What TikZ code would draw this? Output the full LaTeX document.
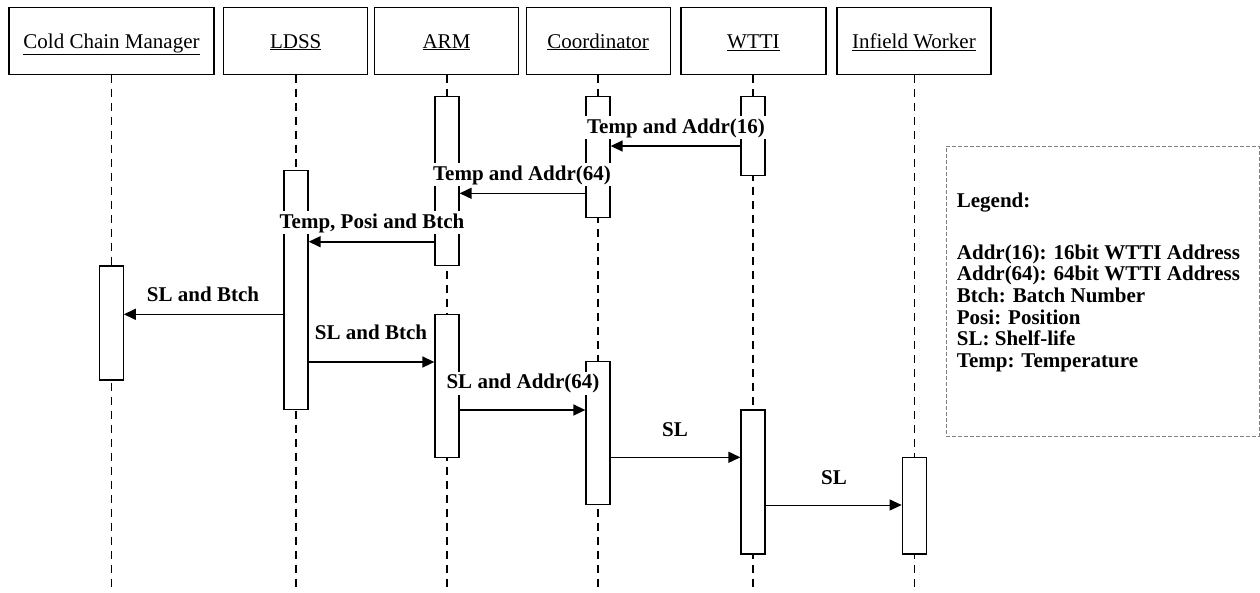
\documentclass[tikz,border=0pt]{standalone}
\usepackage{fontspec}
\setmainfont{Liberation Serif}
\usetikzlibrary{arrows.meta}
\begin{document}
\begin{tikzpicture}[x=1pt,y=-1pt,
  hdr/.style={draw,line width=1.2pt,inner sep=0pt,minimum height=67pt},
  hdrtext/.style={anchor=base,inner sep=0pt,font=\fontsize{21}{25}\selectfont},
  life/.style={line width=1.1pt,dash pattern=on 8pt off 6pt},
  act/.style={draw,fill=white,line width=1.3pt,inner sep=0pt,minimum width=24pt},
  msg/.style={line width=1.6pt,-{Triangle[length=12pt,width=11pt]}},
  thinmsg/.style={line width=1pt,-{Triangle[length=12pt,width=11pt]}},
  lbl/.style={anchor=base,fill=white,inner sep=2pt,font=\fontsize{21}{25}\selectfont\bfseries},
  leg/.style={anchor=base west,inner sep=0pt,font=\fontsize{21}{25}\selectfont\bfseries}]
\useasboundingbox (0,0) rectangle (1260,592);
% header boxes
\node[hdr,minimum width=205pt] (h1) at (111.5,40.7) {};
\node[hdr,minimum width=144pt] (h2) at (295.7,40.7) {};
\node[hdr,minimum width=144pt] (h3) at (446.5,40.7) {};
\node[hdr,minimum width=144pt] (h4) at (598.2,40.7) {};
\node[hdr,minimum width=145pt] (h5) at (753.4,40.7) {};
\node[hdr,minimum width=154pt] (h6) at (913.9,40.7) {};
\node[hdrtext] (t1) at (111.5,48) {\underline{Cold Chain Manager}};
\node[hdrtext] (t2) at (295.7,48) {\underline{LDSS}};
\node[hdrtext] (t3) at (446.5,48) {\underline{ARM}};
\node[hdrtext] (t4) at (598.2,48) {\underline{Coordinator}};
\node[hdrtext] (t5) at (753.4,48) {\underline{WTTI}};
\node[hdrtext] (t6) at (913.9,48) {\underline{Infield Worker}};
% lifeline ends
\coordinate (e1) at (111.5,590);
\coordinate (e2) at (296,590);
\coordinate (e3) at (447,590);
\coordinate (e4) at (598,590);
\coordinate (e5) at (753,590);
\coordinate (e6) at (914.3,590);
\draw[life] (h1.south -| e1) -- (e1);
\draw[life] (h2.south -| e2) -- (e2);
\draw[life] (h3.south -| e3) -- (e3);
\draw[life] (h4.south -| e4) -- (e4);
\draw[life] (h5.south -| e5) -- (e5);
\draw[life] (h6.south -| e6) -- (e6);
% activation boxes
\node[act,minimum height=169pt] (arm1) at (447,181.2) {};
\node[act,minimum height=121pt] (co1) at (598,157.2) {};
\node[act,minimum height=79pt] (wt1) at (753,136.2) {};
\node[act,minimum height=239pt] (ld1) at (296,289.7) {};
\node[act,minimum height=114pt] (cc1) at (111.2,323) {};
\node[act,minimum height=143pt] (arm2) at (447,385.8) {};
\node[act,minimum height=142.6pt] (co2) at (598,433) {};
\node[act,minimum height=144pt] (wt2) at (753,482) {};
\node[act,minimum height=96.7pt] (iw1) at (914.3,505.7) {};
% messages
\draw[msg] (wt1.west |- 0,146) -- (co1.east |- 0,146);
\node[lbl] (l1) at (676,133) {Temp and Addr(16)};
\draw[msg] (co1.west |- 0,193.3) -- (arm1.east |- 0,193.3);
\node[lbl] (l2) at (522,180) {Temp and Addr(64)};
\draw[msg] (arm1.west |- 0,241.7) -- (ld1.east |- 0,241.7);
\node[lbl] (l3) at (372,228) {Temp, Posi and Btch};
\draw[msg] (ld1.west |- 0,314.3) -- (cc1.east |- 0,314.3);
\node[lbl] (l4) at (203,301.7) {SL and Btch};
\draw[msg] (ld1.east |- 0,362) -- (arm2.west |- 0,362);
\node[lbl] (l5) at (371,339) {SL and Btch};
\draw[msg] (arm2.east |- 0,410) -- (co2.west |- 0,410);
\node[lbl] (l6) at (523,388.3) {SL and Addr(64)};
\draw[msg] (co2.east |- 0,457.3) -- (wt2.west |- 0,457.3);
\node[lbl] (l7) at (675,436) {SL};
\draw[thinmsg] (wt2.east |- 0,505) -- (iw1.west |- 0,505);
\node[lbl] (l8) at (834,484) {SL};
% legend
\node[draw=gray,dash pattern=on 4pt off 2pt,line width=0.8pt,minimum width=313pt,minimum height=290pt,inner sep=0pt] (legbox) at (1102.7,291) {};
\node[leg] (g0) at (956.7,207.7) {Legend:};
\node[leg] (g1) at (956.7,259) {Addr(16): 16bit WTTI Address};
\node[leg] (g2) at (956.7,280.7) {Addr(64): 64bit WTTI Address};
\node[leg] (g3) at (956.7,302.4) {Btch: Batch Number};
\node[leg] (g4) at (956.7,324.1) {Posi: Position};
\node[leg] (g5) at (956.7,345.8) {SL: Shelf-life};
\node[leg] (g6) at (956.7,367.5) {Temp: Temperature};
\end{tikzpicture}
\end{document}
